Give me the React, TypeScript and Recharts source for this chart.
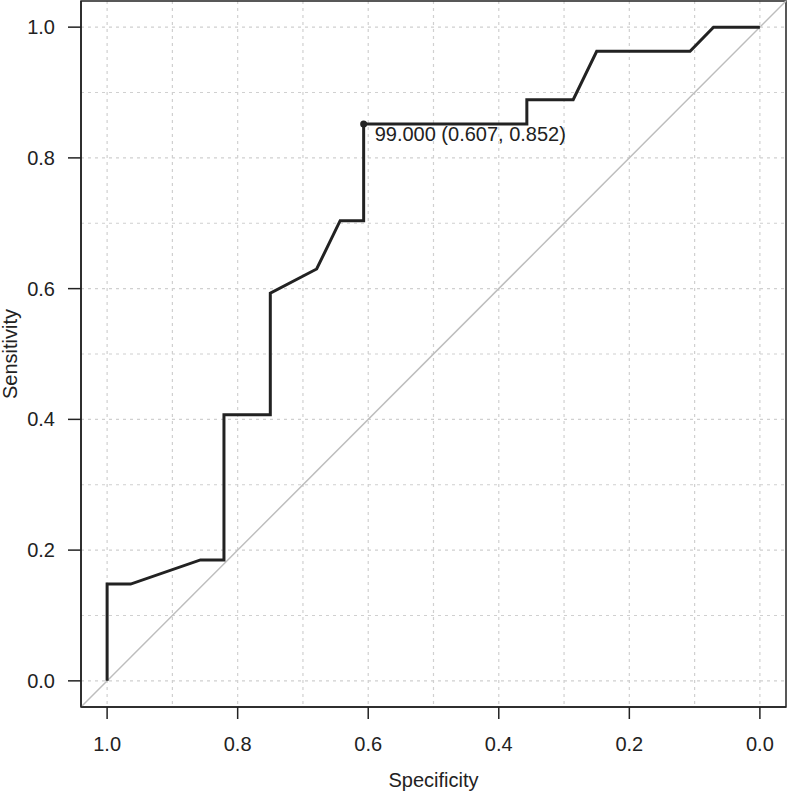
import {
  ComposedChart,
  Line,
  XAxis,
  YAxis,
  CartesianGrid,
  ReferenceLine,
  ReferenceArea,
  ReferenceDot,
  Label,
} from 'recharts';

const specificity = [1, 1, 0.964, 0.857, 0.821, 0.821, 0.75, 0.75, 0.679, 0.643, 0.607, 0.607, 0.357, 0.357, 0.286, 0.25, 0.107, 0.071, 0];
const sensitivity = [0, 0.148, 0.148, 0.185, 0.185, 0.407, 0.407, 0.593, 0.63, 0.704, 0.704, 0.852, 0.852, 0.889, 0.889, 0.963, 0.963, 1, 1];

const axisTicks = [0, 0.2, 0.4, 0.6, 0.8, 1];
const gridValues = [0, 0.1, 0.2, 0.3, 0.4, 0.5, 0.6, 0.7, 0.8, 0.9, 1];
const domain: [number, number] = [-0.04, 1.04];

const bestThreshold = { spec: 0.607, sens: 0.852, label: '99.000 (0.607, 0.852)' };

const data = specificity.map((spec, i) => ({ spec, sens: sensitivity[i] }));

const INK = '#222';
const FONT = '"Liberation Sans", Arial, Helvetica, sans-serif';

const fmt = (v: number) => v.toFixed(1);

const YTitle = ({ viewBox }: any) => {
  const cx = viewBox.x + 17;
  const cy = viewBox.y + viewBox.height / 2;
  return (
    <text
      x={cx}
      y={cy}
      transform={`rotate(-90, ${cx}, ${cy})`}
      textAnchor="middle"
      fontSize={20}
      fill={INK}
      fontFamily={FONT}
    >
      Sensitivity
    </text>
  );
};

const DotLabel = ({ viewBox }: any) => {
  const cx = viewBox.x + viewBox.width / 2;
  const cy = viewBox.y + viewBox.height / 2;
  return (
    <text x={cx + 11} y={cy + 17} fontSize={20} fill={INK} fontFamily={FONT}>
      {bestThreshold.label}
    </text>
  );
};

export default function App() {
  return (
    <div style={{ position: 'absolute', left: 0, top: 0, background: '#fff' }}>
      <ComposedChart
        width={788}
        height={792}
        data={data}
        margin={{ top: 1, right: 2, bottom: 0, left: 0 }}
        style={{ fontFamily: FONT }}
      >
        <CartesianGrid
          horizontalValues={gridValues}
          verticalValues={gridValues}
          stroke="#d0d0d0"
          strokeDasharray="3 4"
          strokeWidth={1.2}
        />
        <XAxis
          type="number"
          dataKey="spec"
          domain={domain}
          allowDataOverflow
          reversed
          ticks={axisTicks}
          tickFormatter={fmt}
          height={85}
          tickSize={12}
          tickMargin={18}
          tick={{ fontSize: 20, fill: INK }}
          stroke={INK}
          strokeWidth={1.5}
        >
          <Label value="Specificity" position="insideBottom" offset={5} fontSize={20} fill={INK} />
        </XAxis>
        <YAxis
          type="number"
          domain={domain}
          allowDataOverflow
          ticks={axisTicks}
          tickFormatter={fmt}
          width={81}
          tickSize={13}
          tickMargin={13}
          tick={{ fontSize: 20, fill: INK }}
          stroke={INK}
          strokeWidth={1.5}
          label={<YTitle />}
        />
        <ReferenceLine
          segment={[
            { x: domain[1], y: domain[0] },
            { x: domain[0], y: domain[1] },
          ]}
          stroke="#bdbdbd"
          strokeWidth={1.5}
        />
        <Line
          type="linear"
          dataKey="sens"
          stroke={INK}
          strokeWidth={3}
          dot={false}
          activeDot={false}
          isAnimationActive={false}
        />
        <ReferenceDot
          x={bestThreshold.spec}
          y={bestThreshold.sens}
          r={3.5}
          fill={INK}
          stroke="none"
          label={<DotLabel />}
        />
        <ReferenceArea
          x1={domain[1]}
          x2={domain[0]}
          y1={domain[0]}
          y2={domain[1]}
          fill="none"
          fillOpacity={0}
          stroke={INK}
          strokeWidth={1.5}
        />
      </ComposedChart>
    </div>
  );
}
